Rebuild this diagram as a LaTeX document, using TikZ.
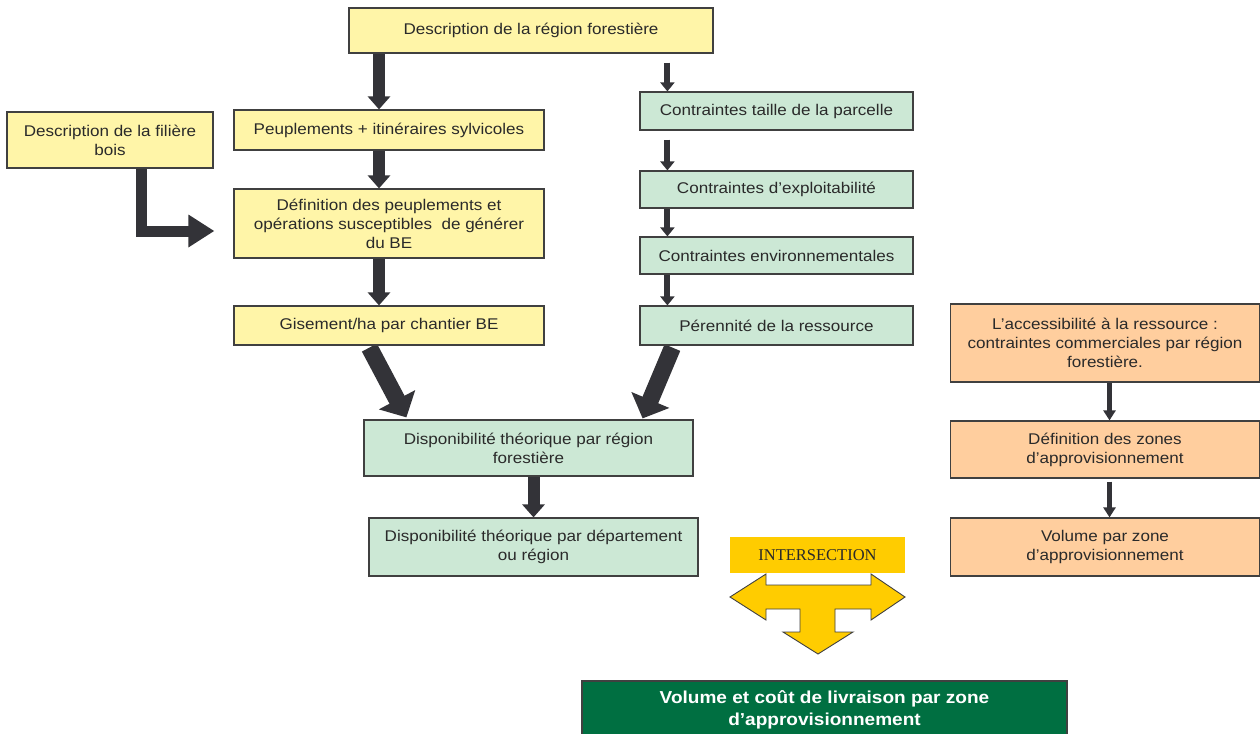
\documentclass[tikz,border=0pt]{standalone}
\usepackage{fontspec}
\setmainfont{Liberation Sans}[FakeStretch=1.1]
\newfontfamily\interfont{Liberation Serif}
\usetikzlibrary{arrows.meta,calc,backgrounds}
\definecolor{yelfill}{HTML}{FFF5A8}
\definecolor{grnfill}{HTML}{CCE8D5}
\definecolor{orafill}{HTML}{FFCE9E}
\definecolor{goldc}{HTML}{FFCC00}
\definecolor{dkgreen}{HTML}{006F41}
\definecolor{arrc}{HTML}{333338}
\definecolor{bordc}{HTML}{404040}
\definecolor{txtc}{HTML}{2A2A2A}
\tikzset{
  box/.style={draw=bordc, line width=1.2pt, inner sep=0pt, align=center, text=txtc,
    font=\fontsize{15.5}{19}\selectfont},
  ybox/.style={box, fill=yelfill},
  gbox/.style={box, fill=grnfill},
  obox/.style={box, fill=orafill},
  thickarr/.style={arrc, line width=12pt, -{Triangle[width=22pt,length=13pt]}},
  diagarr/.style={arrc, line width=17pt, -{Triangle[width=40pt,length=20pt]}},
  elbowarr/.style={arrc, line width=11pt, line join=miter, -{Triangle[width=31pt,length=26pt]}},
  thinarr/.style={arrc, line width=6pt, -{Triangle[width=14pt,length=9pt]}},
  oarr/.style={arrc, line width=5.5pt, -{Triangle[width=12pt,length=10pt]}},
}
\begin{document}
\begin{tikzpicture}[x=1pt,y=-1pt]
\useasboundingbox (0,0) rectangle (1260,733);

% yellow column
\node[ybox, minimum width=364pt, minimum height=45pt] (desc) at (531,30.5) {Description de la région forestière};
\node[ybox, minimum width=206pt, minimum height=56pt] (fil) at (110,140) {Description de la filière\\bois};
\node[ybox, minimum width=310pt, minimum height=40pt] (peup) at (389,130) {Peuplements + itinéraires sylvicoles};
\node[ybox, minimum width=310pt, minimum height=69pt] (def) at (389,223.5) {Définition des peuplements et\\opérations susceptibles\ \ de générer\\du BE};
\node[ybox, minimum width=310pt, minimum height=39pt] (gis) at (389,325.5) {Gisement/ha par chantier BE};

% green column
\node[gbox, minimum width=273pt, minimum height=38pt] (ctai) at (776.5,111) {Contraintes taille de la parcelle};
\node[gbox, minimum width=273pt, minimum height=37pt] (cexp) at (776.5,189.5) {Contraintes d’exploitabilité};
\node[gbox, minimum width=273pt, minimum height=37pt] (cenv) at (776.5,255.5) {Contraintes environnementales};
\node[gbox, minimum width=273pt, minimum height=39pt] (pere) at (776.5,325.5) {Pérennité de la ressource};

\node[gbox, minimum width=329pt, minimum height=56pt] (dr) at (528.5,448) {Disponibilité théorique par région\\forestière};
\node[gbox, minimum width=329pt, minimum height=58pt] (dd) at (533.5,547) {Disponibilité théorique par département\\ou région};

% orange column
\node[obox, minimum width=309pt, minimum height=78pt] (acc) at (1105,343) {L’accessibilité à la ressource :\\contraintes commerciales par région\\forestière.};
\node[obox, minimum width=309pt, minimum height=57pt] (dz) at (1105,449.5) {Définition des zones\\d’approvisionnement};
\node[obox, minimum width=309pt, minimum height=58pt] (vz) at (1105,547) {Volume par zone\\d’approvisionnement};

% intersection
\node[fill=goldc, minimum width=175pt, minimum height=36pt, inner sep=0pt, text=txtc,
  font=\interfont\fontsize{16.5}{19}\selectfont] (inter) at (817.5,555) {INTERSECTION};
\draw[fill=goldc, draw=bordc, line width=0.9pt, line join=miter]
  (730,597) -- (766,574) -- (766,585) -- (871,585) -- (871,574) -- (905,597)
  -- (871,620) -- (871,609) -- (835,609) -- (835,632) -- (853,632) -- (818,654)
  -- (783,632) -- (800,632) -- (800,609) -- (766,609) -- (766,620) -- cycle;

% final box
\node[fill=dkgreen, draw=bordc, line width=1.2pt, minimum width=485pt, minimum height=58pt,
  inner sep=0pt, align=center, text=white,
  font=\bfseries\fontsize{17.3}{21.5}\selectfont] (vol) at (824.5,710)
  {Volume et coût de livraison par zone\\d’approvisionnement};

\begin{scope}[on background layer]
\fill[white] (0,0) rectangle (1260,733);
% left column arrows
\draw[thickarr] ($(peup.north |- desc.south)+(-10,0)$) -- ($(peup.north)+(-10,0)$);
\draw[thickarr] ($(peup.south)+(-10,0)$) -- ($(def.north)+(-10,0)$);
\draw[thickarr] ($(def.south)+(-10,0)$) -- ($(gis.north)+(-10,0)$);
\draw[elbowarr] ($(fil.south)+(31,0)$) |- ($(def.west)+(-19,7.5)$);
% right column arrows
\draw[thinarr] ($(ctai.north west |- desc.south)+(28,9)$) -- ($(ctai.north west)+(28,0)$);
\draw[thinarr] ($(ctai.south west)+(28,9)$) -- ($(cexp.north west)+(28,0)$);
\draw[thinarr] ($(cexp.south west)+(28,0)$) -- ($(cenv.north west)+(28,0)$);
\draw[thinarr] ($(cenv.south west)+(28,0)$) -- ($(pere.north west)+(28,0)$);
% diagonal arrows
\draw[diagarr] ($(gis.south west)+(136,2)$) -- ($(dr.north west)+(43,-2)$);
\draw[diagarr] ($(pere.south west)+(33,2)$) -- ($(dr.north east)+(-51,-1)$);
% dr to dd
\draw[thickarr] (dd.north |- dr.south) -- (dd.north);
% orange arrows
\draw[oarr] ($(acc.south)+(4.5,0)$) -- ($(dz.north)+(4.5,0)$);
\draw[oarr] ($(dz.south)+(4.5,3)$) -- ($(vz.north)+(4.5,0)$);
\end{scope}
\end{tikzpicture}
\end{document}
